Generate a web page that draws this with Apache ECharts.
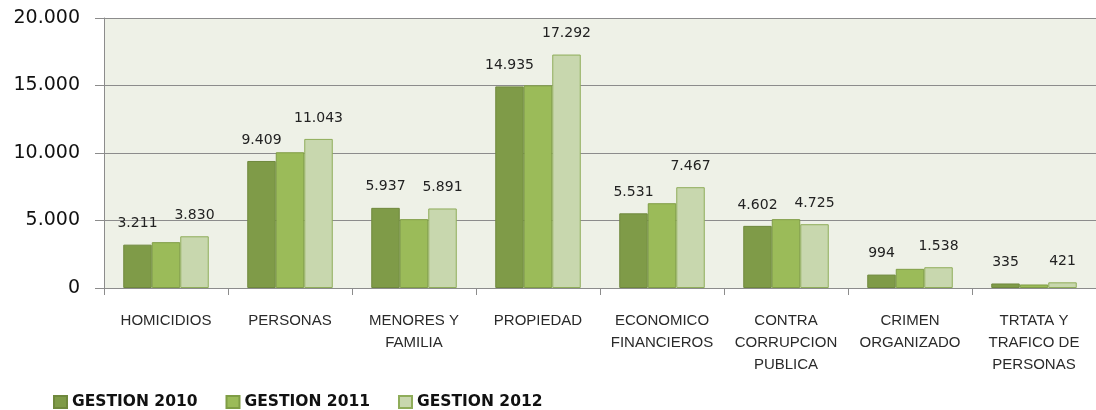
<!DOCTYPE html>
<html>
<head>
<meta charset="utf-8">
<script src="https://cdn.jsdelivr.net/npm/echarts@6/dist/echarts.min.js"></script>
<style>
  html, body { margin: 0; padding: 0; background: #ffffff; }
  #chart { width: 1096px; height: 410px; }
</style>
</head>
<body>
<div id="chart"></div>
<script>
// categorias del eje x
const categories = [
  'HOMICIDIOS', 'PERSONAS', 'MENORES Y\nFAMILIA', 'PROPIEDAD',
  'ECONOMICO\nFINANCIEROS', 'CONTRA\nCORRUPCION\nPUBLICA',
  'CRIMEN\nORGANIZADO', 'TRTATA Y\nTRAFICO DE\nPERSONAS'
];
const seriesNames = ['GESTION 2010', 'GESTION 2011', 'GESTION 2012'];
const gestion2010 = [3211, 9409, 5937, 14935, 5531, 4602, 994, 335];
const gestion2011 = [3395, 10055, 5100, 15010, 6280, 5100, 1420, 260];
const gestion2012 = [3830, 11043, 5891, 17292, 7467, 4725, 1538, 421];
const yTicks = [0, 5000, 10000, 15000, 20000];

// 20000 -> 20.000
function miles(v) {
  return String(v).replace(/\B(?=(\d{3})+(?!\d))/g, '.');
}

const labelStyle = {
  show: true,
  position: 'top',
  distance: 14,
  fontFamily: 'DejaVu Sans',
  fontSize: 14,
  color: '#222222',
  formatter: p => miles(p.value)
};

const myEcharts = echarts.init(document.getElementById('chart'), null, { renderer: 'canvas' });
myEcharts.setOption({
  animation: false,
  color: ['#7f9b48', '#9bbb59', '#c8d7ae'],
  grid: {
    left: 104,
    top: 18,
    width: 1004,
    height: 270,
    show: true,
    backgroundColor: '#eef1e7',
    borderWidth: 0
  },
  legend: {
    left: 53,
    top: 394,
    padding: 0,
    itemWidth: 13,
    itemHeight: 12,
    itemGap: 28,
    icon: 'rect',
    textStyle: {
      fontFamily: 'DejaVu Sans',
      fontWeight: 'bold',
      fontSize: 15.5,
      color: '#111111'
    },
    data: seriesNames
  },
  xAxis: {
    type: 'category',
    data: categories,
    axisLine: { lineStyle: { color: '#8c8c8c', width: 1 } },
    axisTick: { show: true, length: 7, lineStyle: { color: '#8c8c8c' } },
    axisLabel: {
      interval: 0,
      margin: 22,
      lineHeight: 22,
      fontFamily: 'Liberation Sans',
      fontSize: 15,
      color: '#2a2a2a'
    }
  },
  yAxis: {
    type: 'value',
    min: yTicks[0],
    max: yTicks[yTicks.length - 1],
    interval: 5000,
    axisLine: { show: true, lineStyle: { color: '#8c8c8c' } },
    axisTick: { show: true, length: 9, lineStyle: { color: '#8c8c8c' } },
    splitLine: { lineStyle: { color: '#8c8c8c', width: 1 } },
    axisLabel: {
      margin: 24,
      fontFamily: 'DejaVu Sans',
      fontSize: 19,
      color: '#111111',
      formatter: v => miles(v)
    }
  },
  series: [
    {
      name: seriesNames[0],
      type: 'bar',
      data: gestion2010,
      barWidth: 28.5,
      barGap: '0%',
      itemStyle: { borderColor: '#6f883d', borderWidth: 1 },
      label: labelStyle
    },
    {
      name: seriesNames[1],
      type: 'bar',
      data: gestion2011,
      barWidth: 28.5,
      barGap: '0%',
      itemStyle: { borderColor: '#7f9d45', borderWidth: 1 }
    },
    {
      name: seriesNames[2],
      type: 'bar',
      data: gestion2012,
      barWidth: 28.5,
      barGap: '0%',
      itemStyle: { borderColor: '#8fad5a', borderWidth: 1 },
      label: labelStyle
    }
  ]
});
</script>
</body>
</html>
